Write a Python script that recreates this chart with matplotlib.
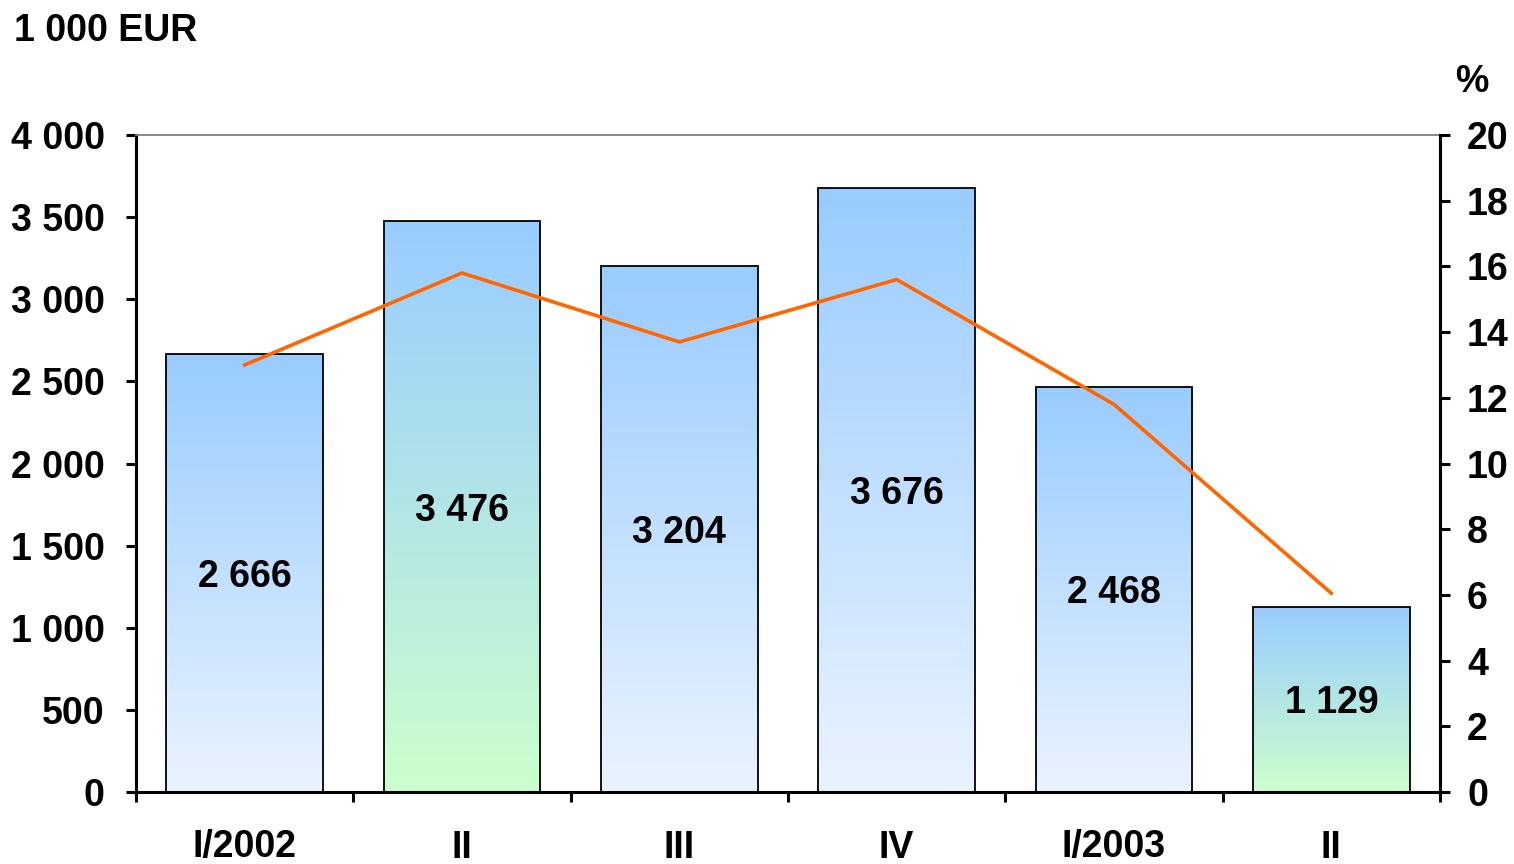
import matplotlib
matplotlib.use("Agg")
import matplotlib.pyplot as plt
import numpy as np
from matplotlib.colors import LinearSegmentedColormap

plt.rcParams['font.family'] = ['Liberation Sans', 'DejaVu Sans']
plt.rcParams['font.weight'] = 'bold'

categories = ["I/2002", "II", "III", "IV", "I/2003", "II"]
values = [2666, 3476, 3204, 3676, 2468, 1129]
percent = [13.0, 15.8, 13.7, 15.6, 11.8, 6.05]
green_bars = [False, True, False, False, False, True]
value_labels = ["2 666", "3 476", "3 204", "3 676", "2 468", "1 129"]
left_ticks = [0, 500, 1000, 1500, 2000, 2500, 3000, 3500, 4000]
left_ticklabels = ["0", "500", "1 000", "1 500", "2 000", "2 500", "3 000", "3 500", "4 000"]
right_ticks = [0, 2, 4, 6, 8, 10, 12, 14, 16, 18, 20]

FS = 27

fig = plt.figure(figsize=(15.14, 8.64), dpi=100)
ax = fig.add_axes([136/1514, 1-792/864, 1304/1514, 657/864])
ax.set_xlim(-0.5, 5.5)
ax.set_ylim(0, 4000)

cmap_blue = LinearSegmentedColormap.from_list("b", ["#EAF3FF", "#99CCFF"])
cmap_green = LinearSegmentedColormap.from_list("g", ["#CCFFCC", "#99CCFF"])
grad = np.linspace(0, 1, 256).reshape(-1, 1)

x = np.arange(len(categories))
width = 0.72
bars = ax.bar(x, values, width=width, facecolor='none', edgecolor='black', linewidth=1.3, zorder=3)
for b, g in zip(bars, green_bars):
    x0, y0 = b.get_x(), b.get_y()
    w, h = b.get_width(), b.get_height()
    im = ax.imshow(grad, extent=[x0, x0 + w, y0, y0 + h], origin='lower',
                   aspect='auto', cmap=cmap_green if g else cmap_blue, zorder=2)
    im.set_clip_path(b)
for xi, v, lab in zip(x, values, value_labels):
    ax.text(xi, v / 2, lab, ha='center', va='center_baseline', fontsize=FS, fontweight='bold', zorder=5)

ax.set_xlim(-0.5, 5.5)
ax.set_ylim(0, 4000)
ax.set_yticks(left_ticks)
ax.set_yticklabels(left_ticklabels)
ax.set_xticks(np.arange(-0.5, 6, 1))
ax.set_xticklabels([])
ax.set_xticks(x, minor=True)
ax.set_xticklabels(categories, minor=True)
ax.tick_params(axis='x', which='major', direction='out', length=7.5, width=2.2)
ax.tick_params(axis='x', which='minor', length=0, pad=27, labelsize=FS)
ax.tick_params(axis='y', direction='out', length=7.5, width=2.2, labelsize=FS, pad=15)
for s in ['left', 'bottom', 'right']:
    ax.spines[s].set_linewidth(2.2)
ax.spines['top'].set_color('#808080')
ax.spines['top'].set_linewidth(1.3)

ax2 = ax.twinx()
ax2.set_ylim(0, 20)
ax2.set_yticks(right_ticks)
ax2.tick_params(axis='y', direction='out', length=7.5, width=2.2, labelsize=FS, pad=12)
ax2.spines['right'].set_linewidth(2.2)
ax2.spines['left'].set_visible(False)
ax2.spines['bottom'].set_visible(False)
ax2.spines['top'].set_visible(False)
ax2.plot(x, percent, color='#FF6600', linewidth=2.6, zorder=6)

for t in ax.get_yticklabels() + ax2.get_yticklabels() + ax.get_xticklabels(minor=True):
    t.set_fontweight('bold')

fig.text(14/1514, 1-31/864, "1 000 EUR", ha='left', va='center', fontsize=FS, fontweight='bold')
fig.text(1472/1514, 1-82/864, "%", ha='center', va='center', fontsize=FS, fontweight='bold')

fig.savefig("out.png", dpi=100)
